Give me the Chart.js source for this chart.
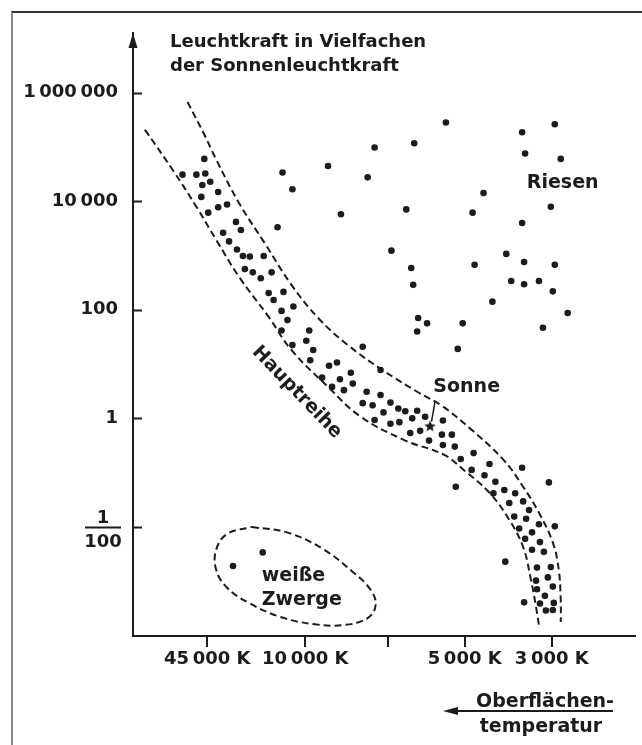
<!DOCTYPE html>
<html>
<head>
<meta charset="utf-8">
<script src="https://cdn.jsdelivr.net/npm/chart.js@4.4.1/dist/chart.umd.min.js"></script>
<style>
  html, body { margin: 0; padding: 0; background: #fff; }
  #wrap { position: relative; width: 642px; height: 745px; overflow: hidden; }
  #frame { position: absolute; left: 11px; top: 11px; width: 700px; height: 800px;
           border-left: 2px solid #8a8a8a; border-top: 2px solid #333; }
  canvas { position: absolute; left: 0; top: 0; }
</style>
</head>
<body>
<div id="wrap"><div id="frame"></div><canvas id="hrd" width="642" height="745"></canvas></div>
<script>
// x = schematic position along the temperature axis, y = log10(luminosity / sun)
const X_TICKS = [75, 174, 258, 335, 423];
const X_LABELS = ['45\u2009000 K', '10\u2009000 K', '', '5\u2009000 K', '3\u2009000 K'];
const Y_TICKS = [-2, 0, 2, 4, 6];
const Y_LABELS = ['', '1', '100', '10\u2009000', '1\u2009000\u2009000'];

const mainSequence = [
  [72, 4.78], [50, 4.49], [64, 4.49], [73, 4.51], [78, 4.36], [70, 4.30], [86, 4.17], [69, 4.08],
  [86, 3.89], [95, 3.94], [76, 3.79], [104, 3.62], [109, 3.47], [91, 3.42], [97, 3.26], [105, 3.11],
  [111, 2.99], [118, 2.98], [132, 2.99], [113, 2.75], [121, 2.69], [129, 2.58], [140, 2.69],
  [137, 2.31], [142, 2.18], [152, 2.33], [150, 1.98], [162, 2.06], [156, 1.81], [150, 1.62],
  [178, 1.62], [175, 1.43], [161, 1.35], [182, 1.26], [179, 1.07], [198, 0.97], [206, 1.03],
  [191, 0.75], [209, 0.72], [220, 0.84], [201, 0.58], [213, 0.52], [222, 0.64], [236, 0.49],
  [250, 0.43], [232, 0.28], [242, 0.24], [260, 0.29], [253, 0.11], [268, 0.18], [275, 0.13],
  [287, 0.14], [244, -0.03], [260, -0.10], [269, -0.07], [282, 0.00], [295, 0.03], [313, -0.04],
  [280, -0.27], [290, -0.23], [312, -0.30], [322, -0.30], [299, -0.41], [313, -0.49], [325, -0.52],
  [331, -0.75], [344, -0.64], [360, -0.84], [342, -0.95], [355, -1.05], [366, -1.17], [364, -1.38],
  [375, -1.32], [386, -1.38], [380, -1.56], [394, -1.53], [400, -1.69], [385, -1.81], [397, -1.85],
  [410, -1.95], [390, -2.03], [403, -2.10], [396, -2.22], [411, -2.28], [403, -2.42], [415, -2.46],
  [408, -2.75], [422, -2.74], [419, -2.93], [407, -2.99], [408, -3.15], [424, -3.10], [416, -3.27],
  [411, -3.41], [425, -3.40], [417, -3.54], [424, -3.53]
];

const scatteredStars = [
  [151, 4.53], [161, 4.22], [146, 3.52], [197, 4.65], [244, 4.99], [284, 5.07], [316, 5.45],
  [237, 4.44], [210, 3.76], [276, 3.85], [261, 3.09], [393, 5.27], [426, 5.42], [396, 4.88],
  [432, 4.78], [354, 4.15], [343, 3.79], [422, 3.90], [393, 3.60], [377, 3.03], [395, 2.88],
  [426, 2.83], [345, 2.83], [382, 2.53], [395, 2.47], [410, 2.53], [424, 2.34], [363, 2.15],
  [439, 1.94], [333, 1.75], [414, 1.67], [281, 2.77], [283, 2.46], [288, 1.85], [297, 1.75],
  [287, 1.60], [232, 1.32], [250, 0.89], [328, 1.28], [393, -0.91], [420, -1.18], [326, -1.26],
  [376, -2.64], [395, -3.39], [426, -1.99]
];

const whiteDwarfs = [[101, -2.72], [131, -2.47]];
const sun = [[300, -0.15]];
const sunPointer = [[305, 0.31], [301.5, -0.06]];

const upperEdge = [
  [55, 5.83], [72, 5.23], [84, 4.77], [107, 3.97], [134, 3.20], [160, 2.46], [187, 1.85],
  [217, 1.35], [252, 0.89], [287, 0.49], [312, 0.23], [340, -0.18], [374, -0.76], [394, -1.26],
  [410, -1.74], [424, -2.29], [430, -2.79], [432, -3.35], [432, -3.75]
];
const lowerEdge = [
  [12, 5.32], [40, 4.58], [64, 3.90], [84, 3.29], [107, 2.61], [137, 1.87], [160, 1.26],
  [197, 0.58], [230, 0.03], [274, -0.40], [314, -0.67], [334, -0.95], [360, -1.37], [380, -1.87],
  [394, -2.37], [402, -2.98], [407, -3.47], [410, -3.81]
];
const dwarfOutline = [
  [120, -2.00], [157, -2.11], [192, -2.41], [222, -2.83], [240, -3.16], [245, -3.44], [237, -3.68],
  [212, -3.81], [182, -3.79], [149, -3.66], [117, -3.40], [95, -3.12], [84, -2.79], [84, -2.42],
  [95, -2.13], [120, -2.00]
];

const ink = '#1c1c1c';
const FONT = '"DejaVu Sans", "Liberation Sans", sans-serif';

function starImage(r) {
  const c = document.createElement('canvas');
  c.width = c.height = 2 * r + 2;
  const g = c.getContext('2d');
  g.fillStyle = ink;
  g.beginPath();
  for (let i = 0; i < 10; i++) {
    const rr = i % 2 ? r * 0.45 : r;
    const a = -Math.PI / 2 + i * Math.PI / 5;
    g.lineTo(r + 1 + rr * Math.cos(a), r + 1 + rr * Math.sin(a));
  }
  g.closePath();
  g.fill();
  return c;
}

const dashed = (data) => ({
  data, showLine: true, pointRadius: 0, borderColor: ink, borderWidth: 2,
  borderDash: [7, 4], tension: 0.4, fill: false
});
const dots = (data) => ({
  data, pointRadius: 3.3, pointBackgroundColor: ink, pointBorderWidth: 0, showLine: false
});

// labels, arrows and tick marks that Chart.js has no option for
const decor = {
  id: 'decor',
  afterDraw(chart) {
    const { ctx, chartArea: a, scales: { x, y } } = chart;
    ctx.save();
    ctx.fillStyle = ink;
    ctx.strokeStyle = ink;

    // arrow head on the y axis
    ctx.beginPath();
    ctx.moveTo(a.left, a.top);
    ctx.lineTo(a.left - 4.5, a.top + 15);
    ctx.lineTo(a.left + 4.5, a.top + 15);
    ctx.closePath();
    ctx.fill();

    // inward tick marks on the y axis
    ctx.lineWidth = 2;
    Y_TICKS.forEach(v => {
      const py = Math.round(y.getPixelForValue(v)) + 0.5;
      ctx.beginPath();
      ctx.moveTo(a.left, py);
      ctx.lineTo(a.left + 9, py);
      ctx.stroke();
    });

    // the 1/100 tick label as a fraction
    const fy = y.getPixelForValue(-2);
    ctx.font = 'bold 18px ' + FONT;
    ctx.textAlign = 'center';
    ctx.textBaseline = 'alphabetic';
    ctx.fillText('1', 103, fy - 4);
    ctx.fillText('100', 103, fy + 20);
    ctx.beginPath();
    ctx.moveTo(85, fy + 0.5);
    ctx.lineTo(121, fy + 0.5);
    ctx.stroke();

    // axis title
    ctx.textAlign = 'left';
    ctx.fillText('Leuchtkraft in Vielfachen', 170, 46.5);
    ctx.fillText('der Sonnenleuchtkraft', 170, 70.5);

    // temperature label with arrow
    ctx.font = 'bold 19px ' + FONT;
    ctx.textAlign = 'center';
    ctx.fillText('Oberflächen-', 545, 707);
    ctx.fillText('temperatur', 541, 732);
    ctx.beginPath();
    ctx.moveTo(455, 711);
    ctx.lineTo(613, 711);
    ctx.stroke();
    ctx.beginPath();
    ctx.moveTo(443, 711);
    ctx.lineTo(458, 707);
    ctx.lineTo(458, 715);
    ctx.closePath();
    ctx.fill();

    // region labels, placed in data coordinates
    const at = (vx, vy) => [x.getPixelForValue(vx), y.getPixelForValue(vy)];
    let p = at(434, 4.25);
    ctx.fillText('Riesen', p[0], p[1]);
    p = at(337, 0.48);
    ctx.fillText('Sonne', p[0], p[1]);
    ctx.textAlign = 'left';
    p = at(130, -2.99);
    ctx.fillText('weiße', p[0], p[1]);
    p = at(130, -3.44);
    ctx.fillText('Zwerge', p[0], p[1]);

    p = at(165.5, 0.48);
    ctx.translate(p[0], p[1]);
    ctx.rotate(46 * Math.PI / 180);
    ctx.textAlign = 'center';
    ctx.textBaseline = 'middle';
    ctx.fillText('Hauptreihe', 0, 0);
    ctx.restore();
  }
};

new Chart(document.getElementById('hrd'), {
  type: 'scatter',
  data: {
    datasets: [
      dots(mainSequence),
      dots(scatteredStars),
      dots(whiteDwarfs),
      { data: sun, pointStyle: starImage(6), pointRadius: 6 },
      { data: sunPointer, showLine: true, pointRadius: 0, borderColor: ink, borderWidth: 1.5 },
      dashed(upperEdge),
      dashed(lowerEdge),
      dashed(dwarfOutline)
    ]
  },
  options: {
    responsive: false,
    animation: false,
    layout: { padding: { top: 33, right: 2, left: 0, bottom: 0 } },
    plugins: { legend: { display: false }, tooltip: { enabled: false } },
    scales: {
      x: {
        type: 'linear', min: 0, max: 507,
        afterFit: s => { s.height = 109; },
        afterBuildTicks: s => { s.ticks = X_TICKS.map(v => ({ value: v })); },
        border: { display: true, color: ink, width: 2 },
        grid: { drawOnChartArea: false, drawTicks: true, tickLength: 11, color: ink, lineWidth: 2 },
        ticks: {
          autoSkip: false, maxRotation: 0, padding: 2, color: ink,
          font: { family: FONT, size: 18, weight: 'bold' },
          callback: v => X_LABELS[X_TICKS.indexOf(v)]
        }
      },
      y: {
        type: 'linear', min: -4.01, max: 7.1,
        afterFit: s => { s.width = 133; },
        afterBuildTicks: s => { s.ticks = Y_TICKS.map(v => ({ value: v })); },
        border: { display: true, color: ink, width: 2 },
        grid: { display: false, drawTicks: false },
        ticks: {
          padding: 15, color: ink,
          font: { family: FONT, size: 18, weight: 'bold' },
          callback: v => Y_LABELS[Y_TICKS.indexOf(v)]
        }
      }
    }
  },
  plugins: [decor]
});
</script>
</body>
</html>
